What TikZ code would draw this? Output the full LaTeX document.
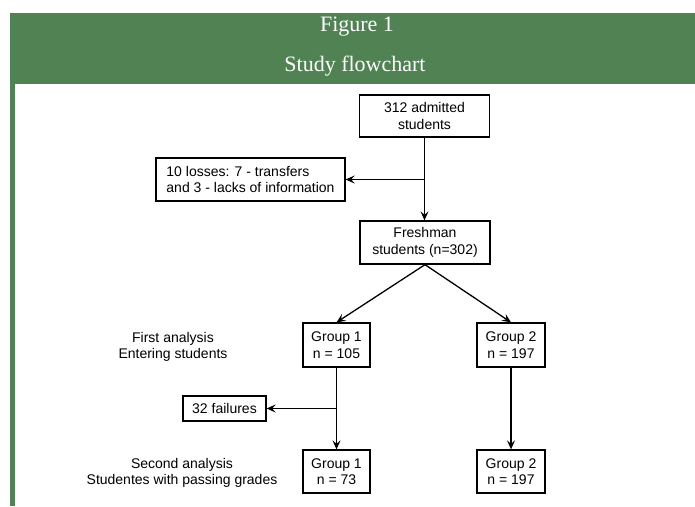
\documentclass[tikz,border=0pt]{standalone}
\usepackage{fontspec}
\setmainfont{Liberation Sans}
\newfontfamily\titlefont{Liberation Serif}
\usetikzlibrary{arrows.meta, positioning}

\definecolor{headgreen}{HTML}{508253}

\tikzset{
  flowbox/.style={draw, line width=1.3pt, align=center, inner sep=2pt,
    font=\fontsize{14}{16.5}\selectfont},
  sidelabel/.style={align=center, font=\fontsize{14}{16.5}\selectfont},
  flowarr/.style={line width=1.3pt, -{Stealth[length=9pt,width=8pt,inset=3.5pt]}}
}

\begin{document}
\begin{tikzpicture}[x=1pt,y=-1pt]
		\useasboundingbox (0,0) rectangle (695,506);
		% header and frame
		\fill[headgreen] (10,13) rectangle (695,84);
		\fill[headgreen] (10,84) rectangle (15,506);
		\node[text=white, font=\titlefont\fontsize{22}{26}\selectfont] (fig) at (357,27) {Figure 1};
		\node[text=white, font=\titlefont\fontsize{22}{26}\selectfont] (title) at (355,66) {Study flowchart};

		% boxes
		\node[flowbox, minimum width=130pt, minimum height=42pt] (adm) at (424.5,116) {312 admitted\\students};
		\node[flowbox, align=left, minimum width=189pt, minimum height=43pt] (loss) at (250.5,179.5) {10 losses: 7 - transfers\\and 3 - lacks of information};
		\node[flowbox, minimum width=130pt, minimum height=43pt] (fresh) at (425,242.5) {Freshman\\students (n=302)};

		\node[flowbox, minimum width=67pt, minimum height=44pt] (g1a) at (336.5,345) {Group 1\\n = 105};
		\node[flowbox, minimum width=68pt, minimum height=44pt] (g2a) at (511,345) {Group 2\\n = 197};
		\node[flowbox, minimum width=83pt, minimum height=25pt] (fail) at (224.5,408.5) {32 failures};
		\node[flowbox, minimum width=67pt, minimum height=43pt] (g1b) at (336.5,471.5) {Group 1\\n = 73};
		\node[flowbox, minimum width=68pt, minimum height=43pt] (g2b) at (511,471.5) {Group 2\\n = 197};

		\node[sidelabel] (first) at (173,347) {First analysis\\Entering students};
		\node[sidelabel] (second) at (182,473) {Second analysis\\Studentes with passing grades};

		% connectors
		\draw[flowarr] (adm.south) -- (adm.south |- fresh.north);
		\draw[flowarr] (adm.south |- loss.east) -- (loss.east);
		\draw[flowarr] (fresh.south) -- (g1a.north);
		\draw[flowarr] (fresh.south) -- (g2a.north);
		\draw[flowarr] (g1a) -- (g1b);
		\draw[flowarr] (g1a.south |- fail.east) -- (fail.east);
		\draw[flowarr] (g2a) -- (g2b);
	\end{tikzpicture}
\end{document}
